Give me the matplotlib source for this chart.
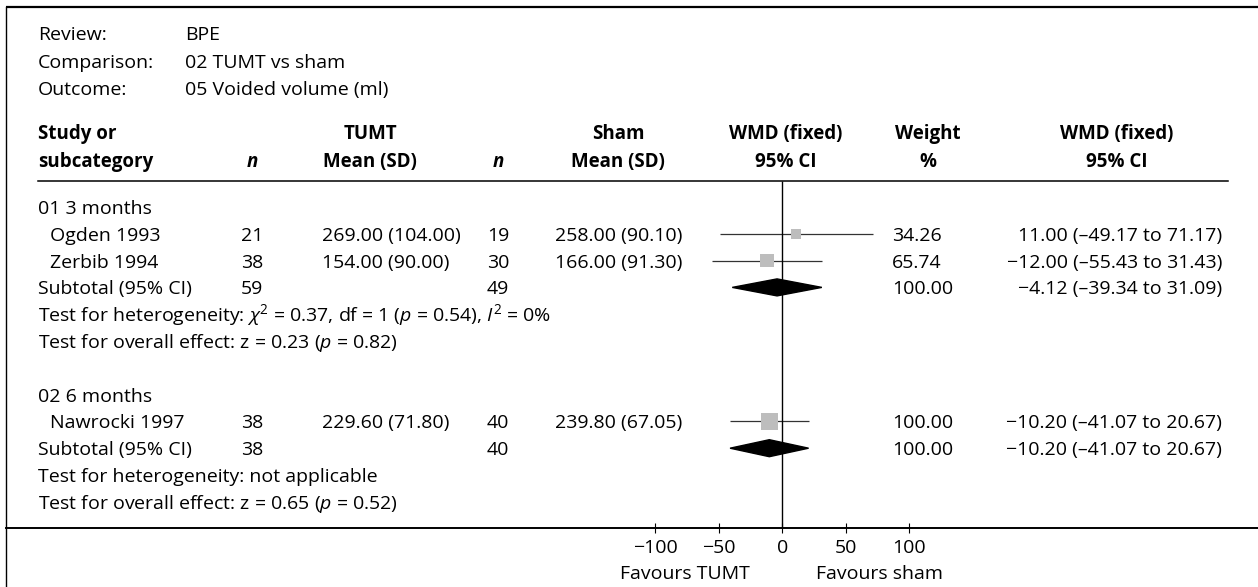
import numpy as np
import matplotlib
matplotlib.use("Agg")
import matplotlib.pyplot as plt
from matplotlib.patches import Polygon

plt.rcParams.update({
    "font.family": ["Open Sans", "DejaVu Sans"],
    "font.size": 14,
    "mathtext.fontset": "custom",
    "mathtext.rm": "Open Sans",
    "mathtext.it": "Open Sans:italic",
    "mathtext.bf": "Open Sans:bold",
})

# ---- data -----------------------------------------------------------------
review = "BPE"
comparison = "02 TUMT vs sham"
outcome = "05 Voided volume (ml)"

groups = ["01 3 months", "02 6 months"]
studies = ["Ogden 1993", "Zerbib 1994", "Nawrocki 1997"]
study_group = [0, 0, 1]
tumt_n = [21, 38, 38]
tumt_mean = [269.00, 154.00, 229.60]
tumt_sd = [104.00, 90.00, 71.80]
sham_n = [19, 30, 40]
sham_mean = [258.00, 166.00, 239.80]
sham_sd = [90.10, 91.30, 67.05]
wmd = [11.00, -12.00, -10.20]
ci_lo = [-49.17, -55.43, -41.07]
ci_hi = [71.17, 31.43, 20.67]
weight = [34.26, 65.74, 100.00]

sub_tumt_n = [59, 38]
sub_sham_n = [49, 40]
sub_wmd = [-4.12, -10.20]
sub_lo = [-39.34, -41.07]
sub_hi = [31.09, 20.67]
sub_weight = [100.00, 100.00]
heterogeneity = [
    r"Test for heterogeneity: $\chi^2$ = 0.37, df = 1 ($p$ = 0.54), $I^2$ = 0%",
    "Test for heterogeneity: not applicable",
]
overall_effect = [
    r"Test for overall effect: z = 0.23 ($p$ = 0.82)",
    r"Test for overall effect: z = 0.65 ($p$ = 0.52)",
]

axis_ticks = [-100, -50, 0, 50, 100]

# ---- layout (pixels) ------------------------------------------------------
W, H = 1258, 587
ROW0, DY = 207, 26.8
BASE = 7            # baseline offset from row centre
RULE_Y = 181
AXIS_Y = 528
ZERO_PX = 782.3
PX_PER_UNIT = 1.272
HEAD_FS = 13.5

X_LABEL, X_INDENT = 38, 50
X_TN, X_TM_HEAD, X_TM = 252, 370, 322
X_SN, X_SM_HEAD, X_SM = 498, 618, 555
X_WMD = 786
X_WT_HEAD, X_WT = 928, 892
X_CI_HEAD, X_CI = 1117, 1222


def fmt(v):
    return f"{v:.2f}".replace("-", "\u2212")


def fmt_ci(est, lo, hi):
    return f"{fmt(est)} ({lo:.2f} to {hi:.2f})".replace("(-", "(\u2013").replace(" -", " \u2013")


fig = plt.figure(figsize=(W / 100, H / 100), dpi=100)
tab = fig.add_axes([0, 0, 1, 1])
tab.set_xlim(0, W)
tab.set_ylim(H, 0)
tab.axis("off")


def put(x, y, s, ha="left", **kw):
    tab.text(x, y + BASE, s, ha=ha, va="baseline", **kw)


# frame and rules
tab.plot([6, W], [7, 7], color="black", lw=1.6, solid_capstyle="butt")
tab.plot([6, 6], [7, H], color="black", lw=1.0)
tab.plot([6, W], [AXIS_Y, AXIS_Y], color="black", lw=1.4)
tab.plot([X_LABEL, 1228], [RULE_Y, RULE_Y], color="black", lw=1.1)

# review info
for i, (lab, val) in enumerate([("Review:", review), ("Comparison:", comparison),
                                ("Outcome:", outcome)]):
    put(X_LABEL, 33 + 27.5 * i, lab)
    put(185, 33 + 27.5 * i, val)

# column headers
for y, cells in [(132, [("Study or", X_LABEL, "left"), ("TUMT", X_TM_HEAD, "center"),
                        ("Sham", X_SM_HEAD, "center"), ("WMD (fixed)", X_WMD, "center"),
                        ("Weight", X_WT_HEAD, "center"), ("WMD (fixed)", X_CI_HEAD, "center")]),
                 (160, [("subcategory", X_LABEL, "left"), ("Mean (SD)", X_TM_HEAD, "center"),
                        ("Mean (SD)", X_SM_HEAD, "center"), ("95% CI", X_WMD, "center"),
                        ("%", X_WT_HEAD, "center"), ("95% CI", X_CI_HEAD, "center")])]:
    for s, x, ha in cells:
        put(x, y, s, ha=ha, fontweight="bold", fontsize=HEAD_FS)
put(X_TN, 160, "n", ha="center", fontweight="bold", style="italic", fontsize=HEAD_FS)
put(X_SN, 160, "n", ha="center", fontweight="bold", style="italic", fontsize=HEAD_FS)

# forest panel axes shares the pixel rows, x in WMD units
fx0, fx1 = 640, 930
fa = fig.add_axes([fx0 / W, 0, (fx1 - fx0) / W, 1])
fa.set_xlim((fx0 - ZERO_PX) / PX_PER_UNIT, (fx1 - ZERO_PX) / PX_PER_UNIT)
fa.set_ylim(H, 0)
fa.patch.set_alpha(0)
for sp in ["top", "left", "right", "bottom"]:
    fa.spines[sp].set_visible(False)
fa.spines["bottom"].set_position(("data", AXIS_Y))
fa.set_yticks([])
fa.set_xticks(axis_ticks)
fa.set_xticklabels([f"{t}".replace("-", "\u2212") for t in axis_ticks])
fa.tick_params(axis="x", direction="inout", length=6.5, width=0.8, pad=5, labelsize=14)
fa.vlines(0, RULE_Y, AXIS_Y, color="black", lw=1.0, zorder=3)

row = 0
for g, gname in enumerate(groups):
    yg = ROW0 + DY * row
    put(X_LABEL, yg, gname)
    row += 1
    for k in [i for i, sg in enumerate(study_group) if sg == g]:
        y = ROW0 + DY * row
        put(X_INDENT, y, studies[k])
        put(X_TN, y, str(tumt_n[k]), ha="center")
        put(X_TM, y, f"{tumt_mean[k]:.2f} ({tumt_sd[k]:.2f})")
        put(X_SN, y, str(sham_n[k]), ha="center")
        put(X_SM, y, f"{sham_mean[k]:.2f} ({sham_sd[k]:.2f})")
        put(X_WT, y, f"{weight[k]:.2f}")
        put(X_CI, y, fmt_ci(wmd[k], ci_lo[k], ci_hi[k]), ha="right")
        fa.hlines(y, ci_lo[k], ci_hi[k], color="#333333", lw=0.9, zorder=2)
        side_pt = 1.7 * np.sqrt(weight[k]) * 0.72
        fa.scatter([wmd[k]], [y], s=side_pt ** 2, marker="s", color="#bdbdbd",
                   edgecolors="none", zorder=2.5)
        row += 1
    y = ROW0 + DY * row
    put(X_LABEL, y, "Subtotal (95% CI)")
    put(X_TN, y, str(sub_tumt_n[g]), ha="center")
    put(X_SN, y, str(sub_sham_n[g]), ha="center")
    put(X_WT, y, f"{sub_weight[g]:.2f}")
    put(X_CI, y, fmt_ci(sub_wmd[g], sub_lo[g], sub_hi[g]), ha="right")
    fa.add_patch(Polygon([(sub_lo[g], y), (sub_wmd[g], y - 8.5), (sub_hi[g], y),
                          (sub_wmd[g], y + 8.5)], closed=True, color="black", zorder=2))
    row += 1
    put(X_LABEL, ROW0 + DY * row, heterogeneity[g])
    row += 1
    put(X_LABEL, ROW0 + DY * row, overall_effect[g])
    row += 2

put(685, 572, "Favours TUMT", ha="center")
put(880, 572, "Favours sham", ha="center")

fig.savefig("out.png", dpi=100, facecolor="white")
